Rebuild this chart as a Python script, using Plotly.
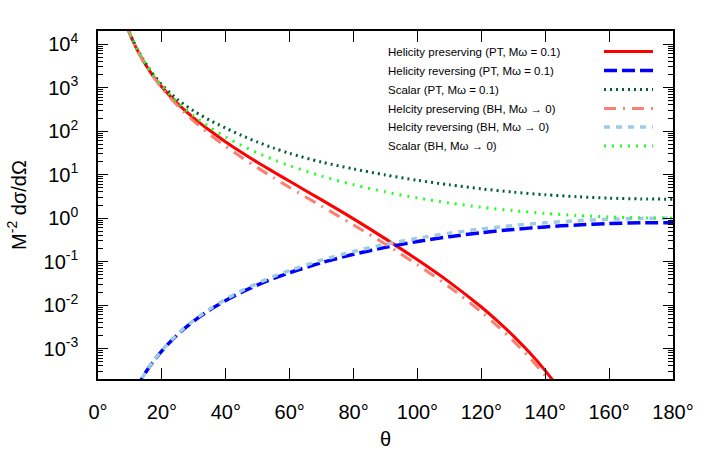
import math
import plotly.graph_objects as go

# ---------------- data ----------------
theta_pres = [9, 10, 11, 12, 13, 14, 15, 17, 20, 25, 30, 35, 40, 45, 50, 55, 60,
              70, 80, 90, 100, 110, 120, 125, 130, 135, 140, 145]
pres_pt = [25700, 16900, 11500, 8100, 5850, 4330, 3280, 1970, 1030, 421, 199, 103,
           56.4, 32.2, 19.0, 11.5, 7.0, 2.62, 0.96, 0.333, 0.110, 0.0338, 0.00903,
           0.00434, 0.00196, 8.2e-4, 3.12e-4, 1.05e-4]
pres_bh = [25740, 16810, 11420, 8016, 5783, 4270, 3216, 1918, 973, 376, 168.9, 83.7,
           44.4, 24.75, 14.27, 8.43, 5.06, 1.873, 0.695, 0.25, 0.0846, 0.0260, 0.00694,
           0.00334, 0.00151, 6.31e-4, 2.40e-4, 8.08e-5]

theta_rev = [12, 13, 14, 15, 17, 20, 25, 30, 35, 40, 45, 50, 55, 60, 70, 80, 90,
             100, 110, 120, 130, 140, 150, 160, 170, 180]
rev_pt = [1.19e-4, 1.64e-4, 2.2e-4, 2.89e-4, 4.72e-4, 8.9e-4, 0.00213, 0.00431,
          0.00777, 0.0128, 0.0198, 0.0291, 0.0410, 0.0556, 0.0947, 0.147, 0.212,
          0.289, 0.374, 0.461, 0.547, 0.628, 0.696, 0.748, 0.778, 0.785]
rev_bh = [1.19e-4, 1.642e-4, 2.206e-4, 2.903e-4, 4.773e-4, 9.09e-4, 0.002195, 0.004487,
          0.008177, 0.01368, 0.02145, 0.0319, 0.04546, 0.0625, 0.1082, 0.1707, 0.25,
          0.3444, 0.4503, 0.5625, 0.6747, 0.7797, 0.8705, 0.9406, 0.9849, 1.0]

theta_sc = [9, 10, 11, 12, 13, 14, 15, 17, 20, 25, 30, 35, 40, 45, 50, 55, 60,
            70, 80, 90, 100, 110, 120, 130, 140, 150, 160, 170, 180]
sc_pt = [26400, 17400, 11900, 8450, 6150, 4600, 3510, 2160, 1166, 524, 290, 177,
         117, 79, 55.8, 40.7, 30.7, 19.4, 13.5, 9.8, 7.4, 5.82, 4.71, 3.96, 3.44,
         3.10, 2.88, 2.76, 2.72]
sc_bh = [26390, 17330, 11850, 8376, 6089, 4534, 3445, 2095, 1100, 455.7, 222.9, 122.3,
         73.08, 46.63, 31.35, 22.0, 16.0, 9.239, 5.858, 4.0, 2.904, 2.221, 1.778,
         1.482, 1.283, 1.149, 1.063, 1.015, 1.0]

series_names = [
    "Helicity preserving (PT, Mω = 0.1)",
    "Helicity reversing (PT, Mω = 0.1)",
    "Scalar (PT, Mω = 0.1)",
    "Helcity preserving (BH, Mω → 0)",
    "Helcity reversing (BH, Mω → 0)",
    "Scalar (BH, Mω → 0)",
]

x_tickvals = [0, 20, 40, 60, 80, 100, 120, 140, 160, 180]
x_ticktext = [f"{v}°" for v in x_tickvals]
y_exps = [-3, -2, -1, 0, 1, 2, 3, 4]

# ---------------- styles ----------------
styles = [
    dict(color="#ff0000", width=3, dash="solid"),
    dict(color="#0000ff", width=3.5, dash="13px,5px"),
    dict(color="#00603a", width=3, dash="2px,4px"),
    dict(color="#fa8072", width=3, dash="12px,7px,2px,7px"),
    dict(color="#9fcbe3", width=3.5, dash="6px,6px"),
    dict(color="#22ff22", width=3, dash="2px,6px"),
]
data = [
    (theta_pres, pres_pt),
    (theta_rev, rev_pt),
    (theta_sc, sc_pt),
    (theta_pres, pres_bh),
    (theta_rev, rev_bh),
    (theta_sc, sc_bh),
]

fig = go.Figure()
for name, (xs, ys), st in zip(series_names, data, styles):
    fig.add_trace(go.Scatter(x=xs, y=ys, mode="lines", name=name,
                             line=dict(color=st["color"], width=st["width"],
                                       dash=st["dash"], shape="spline", smoothing=0.8)))

# ---------------- custom legend (text left, sample right) ----------------
L, R, T, B = 98, 36, 31, 92
W, H = 709, 471
pw, ph = W - L - R, H - T - B
row_y = [51.5, 70.5, 89.5, 108.5, 127.0, 146.0]
for name, st, py in zip(series_names, styles, row_y):
    yp = (H - B - py) / ph
    fig.add_annotation(x=(386 - L) / pw, y=yp, xref="paper", yref="paper",
                       text=name, showarrow=False, xanchor="left", yanchor="middle",
                       font=dict(size=11.5, color="black"))
    fig.add_shape(type="line", xref="paper", yref="paper",
                  x0=(604 - L) / pw, x1=(653 - L) / pw, y0=yp, y1=yp,
                  line=dict(color=st["color"], width=st["width"], dash=st["dash"]))

minor_vals = [m * 10 ** e for e in range(-4, 5) for m in range(2, 10)]

fig.update_layout(
    width=W, height=H,
    margin=dict(l=L, r=R, t=T, b=B),
    plot_bgcolor="white", paper_bgcolor="white",
    showlegend=False,
    font=dict(family="Liberation Sans, Arial, sans-serif", color="black"),
    xaxis=dict(
        range=[0, 180], tickvals=x_tickvals, ticktext=x_ticktext,
        ticks="inside", ticklen=11, tickwidth=1, tickcolor="black",
        mirror="allticks", showline=True, linecolor="black", linewidth=1.5,
        showgrid=False, zeroline=False, tickfont=dict(size=20),
        ticklabelstandoff=14,
        title=dict(text="θ", font=dict(size=20), standoff=10),
    ),
    yaxis=dict(
        type="log", range=[math.log10(2e-4), math.log10(2e4)],
        tickvals=[10 ** e for e in y_exps],
        ticktext=[f"10<sup>{e}</sup>" for e in y_exps],
        ticks="inside", ticklen=10, tickwidth=1, tickcolor="black",
        mirror="allticks", showline=True, linecolor="black", linewidth=1.5,
        showgrid=False, zeroline=False, tickfont=dict(size=20),
        ticklabelstandoff=14,
        minor=dict(tickvals=minor_vals, ticks="inside", ticklen=5, tickwidth=1,
                   tickcolor="black", showgrid=False),
        title=dict(text="M<sup>-2</sup> dσ/dΩ", font=dict(size=20), standoff=12),
    ),
)

fig.write_html("out.html")
